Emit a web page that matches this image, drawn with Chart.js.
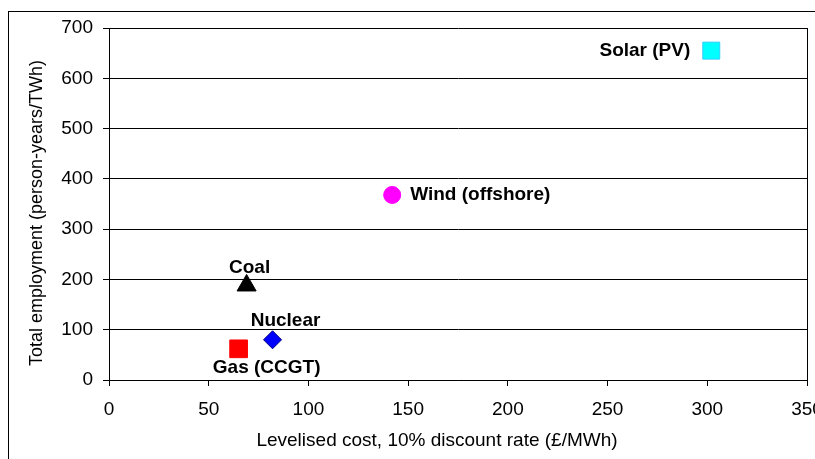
<!DOCTYPE html>
<html>
<head>
<meta charset="utf-8">
<script src="https://cdn.jsdelivr.net/npm/chart.js@4"></script>
<style>
  html, body { margin: 0; padding: 0; background: #fff; }
  canvas { display: block; }
</style>
</head>
<body>
<canvas id="chart" width="815" height="459"></canvas>
<script>
// data
const technologies = ['Solar (PV)', 'Wind (offshore)', 'Coal', 'Nuclear', 'Gas (CCGT)'];
const levelisedCost = [302, 142, 69, 82, 65];        // £/MWh
const employment = [655, 368, 188, 80, 62];          // person-years/TWh
const yTicks = [0, 100, 200, 300, 400, 500, 600, 700];
const xTicks = [0, 50, 100, 150, 200, 250, 300, 350];
const xTitle = 'Levelised cost, 10% discount rate (£/MWh)';
const yTitle = 'Total employment (person-years/TWh)';

// marker styling per point
const markerStyle = ['rect', 'circle', 'triangle', 'rectRot', 'rect'];
const markerFill = ['#00ffff', '#ff00ff', '#000000', '#0000ff', '#ff0000'];
const markerEdge = ['#33ccff', '#ff00ff', '#000000', '#000080', '#ff0000'];
const markerRadius = [12, 8.5, 11, 9, 12.5];

// label placement relative to the marker: [dx, dy, align]
const labelPlace = [
    [-21, 0, 'right'],
    [18, 0, 'left'],
    [3, -18, 'center'],
    [13, -19, 'center'],
    [28, 19, 'center']
];

const FONT = '"Liberation Sans", Arial, sans-serif';

const datasets = technologies.map((name, i) => ({
    label: name,
    data: [{ x: levelisedCost[i], y: employment[i] }],
    pointStyle: markerStyle[i],
    backgroundColor: markerFill[i],
    borderColor: markerEdge[i],
    borderWidth: 1,
    pointRadius: markerRadius[i],
    pointHoverRadius: markerRadius[i]
}));

const frame = {
    id: 'frame',
    beforeDraw(chart) {
        const ctx = chart.ctx;
        ctx.save();
        ctx.fillStyle = '#fff';
        ctx.fillRect(0, 0, chart.width, chart.height);
        ctx.strokeStyle = '#000';
        ctx.lineWidth = 1;
        ctx.strokeRect(8.5, 11.5, 1000, 1000);
        ctx.restore();
    },
    afterDraw(chart) {
        const a = chart.chartArea;
        const ctx = chart.ctx;
        ctx.save();
        ctx.strokeStyle = '#000';
        ctx.lineWidth = 1;
        ctx.beginPath();
        ctx.moveTo(Math.round(a.right) + 0.5, a.top);
        ctx.lineTo(Math.round(a.right) + 0.5, a.bottom);
        ctx.stroke();

        // axis titles (the original is not centred on the plot area)
        ctx.fillStyle = '#000';
        ctx.textAlign = 'center';
        ctx.textBaseline = 'middle';
        ctx.font = '19px ' + FONT;
        ctx.fillText(xTitle, 437, 441);
        ctx.translate(37, 213);
        ctx.rotate(-Math.PI / 2);
        ctx.font = '18px ' + FONT;
        ctx.fillText(yTitle, 0, 0);
        ctx.restore();
    }
};

const pointLabels = {
    id: 'pointLabels',
    afterDatasetsDraw(chart) {
        const ctx = chart.ctx;
        ctx.save();
        ctx.font = 'bold 19px ' + FONT;
        ctx.fillStyle = '#000';
        ctx.textBaseline = 'middle';
        chart.data.datasets.forEach((ds, i) => {
            const pt = chart.getDatasetMeta(i).data[0];
            const [dx, dy, align] = labelPlace[i];
            ctx.textAlign = align;
            ctx.fillText(ds.label, pt.x + dx, pt.y + dy);
        });
        ctx.restore();
    }
};

const tickFont = { family: FONT, size: 19 };

new Chart(document.getElementById('chart'), {
    type: 'scatter',
    data: { datasets },
    options: {
        responsive: false,
        animation: false,
        layout: { autoPadding: false, padding: { top: 28, right: 8, left: 0, bottom: 0 } },
        plugins: { legend: { display: false }, tooltip: { enabled: false } },
        scales: {
            x: {
                type: 'linear',
                min: 0, max: 350,
                afterBuildTicks: s => { s.ticks = xTicks.map(v => ({ value: v })); },
                afterFit: s => { s.height = 79; s.paddingLeft = 0; s.paddingRight = 0; },
                ticks: { color: '#000', font: tickFont, padding: 12, maxRotation: 0 },
                grid: { drawOnChartArea: false, drawTicks: true, tickLength: 6, color: '#000' },
                border: { color: '#000', width: 1 }
            },
            y: {
                type: 'linear',
                min: 0, max: 700,
                afterBuildTicks: s => { s.ticks = yTicks.map(v => ({ value: v })); },
                afterFit: s => { s.width = 109; s.paddingTop = 0; s.paddingBottom = 0; },
                ticks: { color: '#000', font: tickFont, padding: 10 },
                grid: { color: '#000', tickLength: 6, lineWidth: 1 },
                border: { color: '#000', width: 1 }
            }
        }
    },
    plugins: [frame, pointLabels]
});
</script>
</body>
</html>
